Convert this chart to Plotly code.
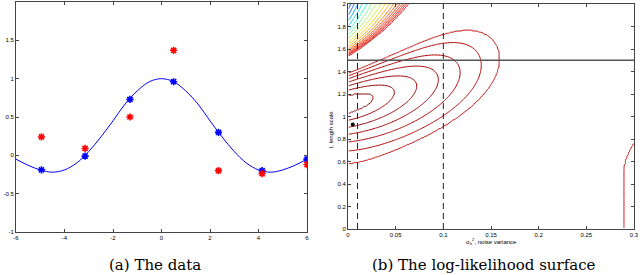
import numpy as np
import plotly.graph_objects as go

# ---------------- data: panel (a) ----------------
x_obs = [-4.95, -3.15, -1.3, 0.5, 2.35, 4.15, 6.0]
y_noisy = [0.24, 0.09, 0.5, 1.37, -0.2, -0.24, -0.12]          # red stars
y_true = [-0.19, -0.01, 0.73, 0.96, 0.30, -0.20, -0.05]        # blue stars
curve_x = [-6, -5.5, -5, -4.5, -4, -3.5, -3, -2.5, -2, -1.5, -1, -0.5, 0,
           0.5, 1, 1.5, 2, 2.5, 3, 3.5, 4, 4.5, 5, 5.5, 6]
curve_y = [-0.05, -0.13, -0.19, -0.22, -0.19, -0.10, 0.05, 0.24, 0.45, 0.67, 0.84, 0.96, 1.0,
           0.96, 0.84, 0.67, 0.45, 0.24, 0.05, -0.10, -0.19, -0.22, -0.19, -0.13, -0.05]
a_xticks = [-6, -4, -2, 0, 2, 4, 6]
a_xtext = ["-6", "-4", "-2", "0", "2", "4", "6"]
a_yticks = [-1, -0.5, 0, 0.5, 1, 1.5, 2]
a_ytext = ["-1", "-0.5", "0", "0.5", "1", "1.5", "2"]

# ---------------- data: panel (b) ----------------
signal_var = 0.33
noise_grid = np.linspace(0.0005, 0.3, 200)
length_grid = np.linspace(0.01, 2.0, 200)
vertical_contour_noise = 0.29
inner_fractions = [0.06, 0.22, 0.4, 0.57, 0.72, 0.85, 0.94]
outer_drops = [0.03, 0.07, 0.12, 0.18, 0.26, 0.36, 0.5, 0.68, 0.9, 1.2, 1.6, 2.1, 2.8,
               3.7, 4.9, 6.5, 8.6, 11.4, 15.0]
dashed_noise = [0.01, 0.1]
hline_length = 1.5
opt_noise = [0.005]
opt_length = [0.93]
b_xticks = [0, 0.05, 0.1, 0.15, 0.2, 0.25, 0.3]
b_xtext = ["0", "0.05", "0.1", "0.15", "0.2", "0.25", "0.3"]
b_yticks = [0, 0.2, 0.4, 0.6, 0.8, 1, 1.2, 1.4, 1.6, 1.8, 2]
b_ytext = ["0", "0.2", "0.4", "0.6", "0.8", "1", "1.2", "1.4", "1.6", "1.8", "2"]


def log_marginal_likelihood(xs, ys, sf2, noises, lengths):
    X = np.array(xs); Y = np.array(ys)
    D2 = (X[:, None] - X[None, :]) ** 2
    S, L = np.meshgrid(noises, lengths)
    K = sf2 * np.exp(-D2[None, None] / (2 * L[..., None, None] ** 2)) + S[..., None, None] * np.eye(len(xs))
    _, logdet = np.linalg.slogdet(K)
    a = np.linalg.solve(K, np.broadcast_to(Y, K.shape[:-1])[..., None])[..., 0]
    q = (a * Y).sum(-1)
    return -0.5 * q - 0.5 * logdet - 0.5 * len(xs) * np.log(2 * np.pi)


z = log_marginal_likelihood(x_obs, y_noisy, signal_var, noise_grid, length_grid)
z_max = float(z.max())
p0 = float(z[0, 0])
z_base = float(z[0, int(np.argmin(np.abs(noise_grid - vertical_contour_noise)))])
inner = [p0 + (z_max - p0) * f for f in inner_fractions]
outer = [z_base - d for d in outer_drops][::-1]
levels = sorted(outer + [z_base] + inner)
pad = [levels[0] - 1e3] + levels + [max(z_max, levels[-1]) + 1e3]
z_idx = np.interp(z, pad, np.arange(len(pad)))
n_lev = len(levels)

jet_lines = [
    [0.0, "#00007f"], [0.08, "#0000ff"], [0.18, "#0090ff"], [0.26, "#20ffdf"],
    [0.34, "#a0ff60"], [0.41, "#ffe000"], [0.48, "#ff8c00"], [0.56, "#ff3000"],
    [0.68, "#e01818"], [0.82, "#b00000"], [1.0, "#8a0000"],
]

fig = go.Figure()

# panel (a)
fig.add_trace(go.Scatter(x=curve_x, y=curve_y, mode="lines", line=dict(color="#0000ff", width=1, shape="spline"),
                         xaxis="x", yaxis="y", showlegend=False))
fig.add_trace(go.Scatter(x=x_obs, y=y_true, mode="markers",
                         marker=dict(symbol="asterisk-open", size=6, color="#0000ff",
                                     line=dict(color="#0000ff", width=1.6)),
                         xaxis="x", yaxis="y", showlegend=False))
fig.add_trace(go.Scatter(x=x_obs, y=y_noisy, mode="markers",
                         marker=dict(symbol="asterisk-open", size=6, color="#ff0000",
                                     line=dict(color="#ff0000", width=1.6)),
                         xaxis="x", yaxis="y", showlegend=False))

# panel (b)
fig.add_trace(go.Contour(x=noise_grid, y=length_grid, z=z_idx, autocontour=False,
                         contours=dict(start=1, end=n_lev, size=1, coloring="lines"),
                         zauto=False, zmin=1, zmax=n_lev,
                         colorscale=jet_lines, showscale=False, line=dict(width=1), xaxis="x2", yaxis="y2",
                         hoverinfo="skip"))
for xv in dashed_noise:
    fig.add_trace(go.Scatter(x=[xv, xv], y=[0, 2], mode="lines", line=dict(color="#222222", width=1, dash="6px,4px"),
                             xaxis="x2", yaxis="y2", showlegend=False))
fig.add_trace(go.Scatter(x=[0, 0.3], y=[hline_length, hline_length], mode="lines",
                         line=dict(color="#555555", width=1.6), xaxis="x2", yaxis="y2", showlegend=False))
fig.add_trace(go.Scatter(x=opt_noise, y=opt_length, mode="markers", marker=dict(color="black", size=4),
                         xaxis="x2", yaxis="y2", showlegend=False))

axis_common = dict(showline=True, linecolor="#444444", linewidth=1, mirror="ticks", ticks="inside",
                   ticklen=3, tickcolor="#444444", showgrid=False, zeroline=False, automargin=False,
                   tickfont=dict(family="Liberation Sans", size=6, color="black"))


def px(x):
    return min(max(x / 640, 0.0), 1.0)


def py(y):
    return min(max(1 - y / 275, 0.0), 1.0)


fig.update_layout(
    width=640, height=275,
    margin=dict(l=0, r=0, t=0, b=0, autoexpand=False),
    paper_bgcolor="white", plot_bgcolor="white",
    xaxis=dict(domain=[px(16), px(307)], range=[-6, 6], tickvals=a_xticks, ticktext=a_xtext,
               anchor="y", **axis_common),
    yaxis=dict(domain=[py(232), py(2)], range=[-1, 2], tickvals=a_yticks, ticktext=a_ytext,
               anchor="x", **axis_common),
    xaxis2=dict(domain=[px(348), px(634)], range=[0, 0.3], tickvals=b_xticks, ticktext=b_xtext,
                anchor="y2", **axis_common),
    yaxis2=dict(domain=[py(229), py(4)], range=[0, 2], tickvals=b_yticks, ticktext=b_ytext,
                anchor="x2", **axis_common),
    annotations=[
        dict(text="(a) The data", x=px(155), y=py(265), xref="paper", yref="paper", xanchor="center",
             yanchor="middle", showarrow=False, font=dict(family="DejaVu Serif", size=15, color="black")),
        dict(text="(b) The log-likelihood surface", x=px(484), y=py(265), xref="paper", yref="paper",
             xanchor="center", yanchor="middle", showarrow=False,
             font=dict(family="DejaVu Serif", size=15, color="black")),
        dict(text="σ<sub>n</sub><sup>2</sup>, noise variance", x=px(491), y=py(241), xref="paper",
             yref="paper", xanchor="center", yanchor="middle", showarrow=False,
             font=dict(family="Liberation Sans", size=6, color="black")),
        dict(text="l, length scale", x=px(331), y=py(130), xref="paper", yref="paper", textangle=-90,
             xanchor="center", yanchor="middle", showarrow=False,
             font=dict(family="Liberation Sans", size=6, color="black")),
    ],
)
fig.write_html("out.html", config={"displayModeBar": False},
               post_script="document.body.style.margin='0';")
